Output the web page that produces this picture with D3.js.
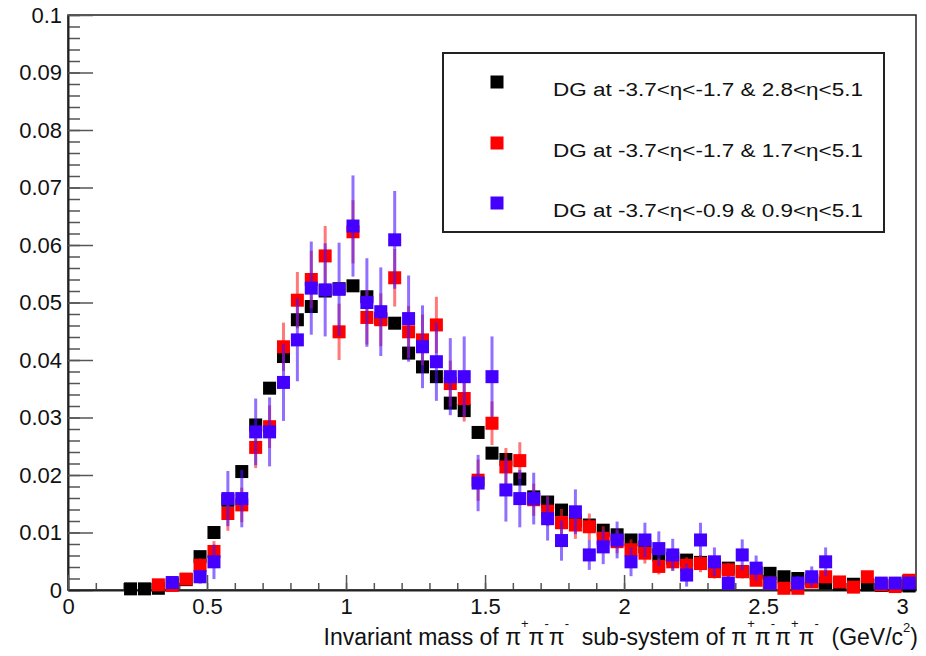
<!DOCTYPE html>
<html><head><meta charset="utf-8">
<script src="https://cdn.jsdelivr.net/npm/d3@7"></script>
<style>
body{margin:0;background:#fff}
svg{display:block}
text{font-family:"Liberation Sans",Arial,Helvetica,sans-serif;fill:#111}
</style></head>
<body><svg id="c" width="926" height="656"></svg>
<script>
// ---- data ----
const binCenters = [0.225,0.275,0.325,0.375,0.425,0.475,0.525,0.575,0.625,0.675,0.725,0.775,0.825,0.875,0.925,0.975,
1.025,1.075,1.125,1.175,1.225,1.275,1.325,1.375,1.425,1.475,1.525,1.575,1.625,1.675,1.725,1.775,1.825,1.875,1.925,1.975,
2.025,2.075,2.125,2.175,2.225,2.275,2.325,2.375,2.425,2.475,2.525,2.575,2.625,2.675,2.725,2.775,2.825,2.875,2.925,2.975,3.025];

const blackVals = [0.0002,0.0002,0.0003,0.0010,0.0018,0.0058,0.0100,0.0156,0.0206,0.0287,0.0351,0.0406,0.0470,0.0493,0.0520,0.0524,
0.0529,0.0510,0.0472,0.0464,0.0412,0.0388,0.0371,0.0325,0.0312,0.0274,0.0238,0.0227,0.0193,0.0162,0.0153,0.0139,0.0120,0.0113,0.0104,0.0096,
0.0087,0.0075,0.0061,0.0055,0.0052,0.0048,0.0043,0.0038,0.0032,0.0030,0.0029,0.0023,0.0020,0.0017,0.0012,0.0010,0.0010,0.0009,0.0008,0.0008,0.0007];
const blackErr = [0.0002,0.0002,0.0002,0.0003,0.0004,0.0005,0.0006,0.0007,0.0008,0.0008,0.0009,0.0009,0.0010,0.0010,0.0010,0.0010,
0.0010,0.0010,0.0010,0.0010,0.0009,0.0009,0.0009,0.0009,0.0008,0.0008,0.0008,0.0008,0.0007,0.0007,0.0007,0.0006,0.0006,0.0006,0.0006,0.0006,
0.0005,0.0005,0.0005,0.0005,0.0005,0.0004,0.0004,0.0004,0.0004,0.0004,0.0004,0.0003,0.0003,0.0003,0.0003,0.0003,0.0003,0.0003,0.0003,0.0003,0.0003];

const redVals = [null,null,0.0009,0.0008,0.0019,0.0043,0.0067,0.0133,0.0148,0.0248,0.0284,0.0423,0.0504,0.0540,0.0581,0.0449,
0.0623,0.0474,0.0470,0.0543,0.0449,0.0435,0.0461,0.0359,0.0333,0.0191,0.0290,0.0214,0.0225,0.0157,0.0137,0.0117,0.0113,0.0110,0.0090,0.0084,
0.0070,0.0064,0.0041,0.0049,0.0043,0.0046,0.0032,0.0035,0.0032,0.0017,0.0012,0.0003,0.0003,0.0014,0.0023,0.0014,0.0005,0.0023,0.0009,0.0006,0.0017];
const redErr = [null,null,0.0005,0.0005,0.0008,0.0012,0.0018,0.0030,0.0030,0.0036,0.0037,0.0042,0.0049,0.0050,0.0052,0.0049,
0.0055,0.0047,0.0046,0.0050,0.0045,0.0044,0.0049,0.0040,0.0040,0.0036,0.0038,0.0033,0.0032,0.0028,0.0026,0.0024,0.0024,0.0023,0.0021,0.0020,
0.0018,0.0018,0.0014,0.0015,0.0014,0.0015,0.0012,0.0012,0.0012,0.0009,0.0008,0.0006,0.0006,0.0006,0.0007,0.0006,0.0006,0.0007,0.0006,0.0006,0.0006];

const blueVals = [null,null,null,0.0013,null,0.0023,0.0049,0.0159,0.0159,0.0275,0.0275,0.0361,0.0435,0.0525,0.0522,0.0523,
0.0633,0.0500,0.0484,0.0609,0.0472,0.0423,0.0397,0.0371,0.0371,0.0186,0.0371,0.0174,0.0159,0.0159,0.0124,0.0086,0.0136,0.0061,0.0075,0.0087,
0.0049,0.0087,0.0072,0.0061,0.0026,0.0087,0.0049,0.0012,0.0061,0.0038,0.0012,null,0.0012,0.0023,0.0049,null,null,null,0.0012,0.0012,0.0012];
const blueErr = [null,null,null,0.0008,null,0.0012,0.0030,0.0048,0.0050,0.0058,0.0060,0.0067,0.0072,0.0081,0.0081,0.0081,
0.0088,0.0077,0.0077,0.0085,0.0075,0.0072,0.0068,0.0067,0.0070,0.0049,0.0070,0.0055,0.0050,0.0045,0.0038,0.0035,0.0039,0.0026,0.0030,0.0032,
0.0025,0.0030,0.0030,0.0028,0.0020,0.0030,0.0025,0.0012,0.0027,0.0022,0.0012,null,0.0012,0.0018,0.0025,null,null,null,0.0010,0.0010,0.0010];

const seriesLabels = ["DG at -3.7<η<-1.7 & 2.8<η<5.1","DG at -3.7<η<-1.7 & 1.7<η<5.1","DG at -3.7<η<-0.9 & 0.9<η<5.1"];
const yTickLabels = ["0","0.01","0.02","0.03","0.04","0.05","0.06","0.07","0.08","0.09","0.1"];
const xTickLabels = ["0","0.5","1","1.5","2","2.5","3"];

// ---- chart ----
const svg = d3.select("#c");
const L = 68, R = 916, T = 15, B = 590;
const x = d3.scaleLinear().domain([0, 3.05]).range([L, R]);
const y = d3.scaleLinear().domain([0, 0.1]).range([B, T]);

const series = [
  {vals: blackVals, errs: blackErr, color: "#000000", bar: "#000000", op: 1},
  {vals: redVals, errs: redErr, color: "#ff0000", bar: "#ff2020", op: 0.6},
  {vals: blueVals, errs: blueErr, color: "#4400ff", bar: "#4a10ff", op: 0.6}
];

// frame
svg.append("rect").attr("x", L).attr("y", T).attr("width", R - L).attr("height", B - T)
  .attr("fill", "none").attr("stroke", "#222").attr("stroke-width", 1.5);

// y axis minor
svg.append("g").attr("transform", `translate(${L},0)`)
  .call(d3.axisLeft(y).ticks(50).tickSize(-12).tickSizeOuter(0).tickFormat(""))
  .call(g => { g.select(".domain").remove(); g.selectAll("line").attr("stroke", "#555").attr("stroke-width", 1.5); });
// y axis major
svg.append("g").attr("transform", `translate(${L},0)`)
  .call(d3.axisLeft(y).tickValues(yTickLabels.map(Number)).tickSize(-25).tickSizeOuter(0).tickPadding(6)
    .tickFormat((d, i) => yTickLabels[i]))
  .call(g => {
    g.select(".domain").attr("stroke", "#222").attr("stroke-width", 2);
    g.selectAll("line").attr("stroke", "#555").attr("stroke-width", 1.5);
    g.selectAll("text").attr("font-size", 22).attr("font-family", "Liberation Sans, Arial, sans-serif").attr("fill", "#111");
  });

// x axis minor
svg.append("g").attr("transform", `translate(0,${B})`)
  .call(d3.axisBottom(x).ticks(30).tickSize(-7).tickSizeOuter(0).tickFormat(""))
  .call(g => { g.select(".domain").remove(); g.selectAll("line").attr("stroke", "#555").attr("stroke-width", 1.5); });
// x axis major
svg.append("g").attr("transform", `translate(0,${B})`)
  .call(d3.axisBottom(x).tickValues(xTickLabels.map(Number)).tickSize(-15).tickSizeOuter(0).tickPadding(8)
    .tickFormat((d, i) => xTickLabels[i]))
  .call(g => {
    g.select(".domain").attr("stroke", "#222").attr("stroke-width", 2);
    g.selectAll("line").attr("stroke", "#555").attr("stroke-width", 1.5);
    g.selectAll("text").attr("font-size", 22).attr("font-family", "Liberation Sans, Arial, sans-serif").attr("fill", "#111");
  });

// data
const MS = 13;
series.forEach(s => {
  const pts = binCenters.map((c, i) => ({c, v: s.vals[i], e: s.errs[i]})).filter(p => p.v !== null);
  const g = svg.append("g");
  g.selectAll("line.err").data(pts).join("line")
    .attr("x1", d => x(d.c)).attr("x2", d => x(d.c))
    .attr("y1", d => y(d.v - d.e)).attr("y2", d => y(d.v + d.e))
    .attr("stroke", s.bar).attr("stroke-width", 3).attr("stroke-opacity", s.op);
  g.selectAll("rect").data(pts).join("rect")
    .attr("x", d => x(d.c) - MS / 2).attr("y", d => y(d.v) - MS / 2)
    .attr("width", MS).attr("height", MS).attr("fill", s.color);
});

// legend
const lg = svg.append("g");
lg.append("rect").attr("x", 443).attr("y", 53).attr("width", 441).attr("height", 179)
  .attr("fill", "#fff").attr("stroke", "#222").attr("stroke-width", 2);
const legY = [82, 143, 203];
series.forEach((s, i) => {
  lg.append("rect").attr("x", 497 - 6.5).attr("y", legY[i] - 6.5).attr("width", 13).attr("height", 13).attr("fill", s.color);
  lg.append("text").attr("x", 553).attr("y", legY[i] + 14).attr("font-size", 18)
    .attr("textLength", 310).attr("lengthAdjust", "spacingAndGlyphs").text(seriesLabels[i]);
});

// x axis title
const parts = [["Invariant mass of π",0],["+",1],["π",0],["-",1],["π",0],["-",1],["  sub-system of π",0],["+",1],["π",0],["-",1],["π",0],["+",1],["π",0],["-",1],["  (GeV/c",0],["2",2],[")",0]];
const title = svg.append("text").attr("x", 918).attr("y", 645).attr("text-anchor", "end").attr("font-size", 23)
  .attr("xml:space", "preserve").style("white-space", "pre");
let cur = 0;
parts.forEach(([t, k]) => {
  const target = k === 1 ? -17 : (k === 2 ? -13 : 0);
  title.append("tspan").attr("dy", target - cur).attr("font-size", k ? 13 : 23).text(t);
  cur = target;
});
</script></body></html>
